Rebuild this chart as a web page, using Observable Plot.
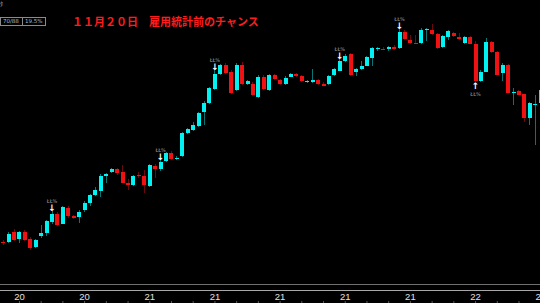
<!DOCTYPE html>
<html><head><meta charset="utf-8">
<script src="https://cdn.jsdelivr.net/npm/d3@7"></script>
<script src="https://cdn.jsdelivr.net/npm/@observablehq/plot@0.6"></script>
<style>
html,body{margin:0;padding:0;background:#000;}
#wrap{position:relative;width:540px;height:303px;overflow:hidden;background:#000;}
#chart svg{display:block;}
.title{position:absolute;left:72px;top:16px;font-family:"Noto Sans CJK JP",sans-serif;font-weight:bold;font-size:11px;line-height:11px;color:#ff1c1c;white-space:nowrap;}
.corner{position:absolute;left:0;top:1px;font-family:"Noto Sans CJK JP",sans-serif;font-size:6px;line-height:6px;color:#9a9a9a;}
.box{position:absolute;left:0;top:17px;height:7px;border:1px solid #8a8a8a;display:flex;font-family:"DejaVu Sans",sans-serif;font-size:5.5px;line-height:7px;color:#b8b8b8;}
.box span{display:block;padding:0 2px;}
.box span.c1{width:17px;border-right:1px solid #8a8a8a;}
.box span.c2{width:18px;}
</style></head><body>
<div id="wrap">
  <div id="chart"></div>
  <div class="corner">ﾀ</div>
  <div class="box"><span class="c1">70/88</span><span class="c2">19.5%</span></div>
  <div class="title">１１月２０日　雇用統計前のチャンス</div>
</div>
<script>
// candle data (price units), one per bar
const opens  = [113.080,113.077,113.183,113.113,113.183,113.110,113.027,113.143,113.167,113.280,
                113.360,113.263,113.420,113.340,113.330,113.397,113.470,113.553,113.587,113.737,
                113.783,113.807,113.780,113.670,113.650,113.747,113.737,113.640,113.840,113.807,
                113.890,113.973,113.915,113.943,114.173,114.200,114.243,114.383,114.467,114.610,
                114.763,114.850,114.780,114.603,114.853,114.657,114.660,114.527,114.730,114.603,
                114.750,114.700,114.657,114.733,114.760,114.740,114.677,114.677,114.697,114.663,
                114.657,114.750,114.793,114.890,114.957,114.783,114.810,114.843,114.923,115.013,
                115.013,115.013,115.033,115.020,115.183,115.103,115.073,115.070,115.200,115.203,
                115.160,115.027,115.127,115.170,115.127,115.073,115.127,115.060,114.687,114.783,
                115.080,114.980,114.773,114.850,114.570,114.593,114.557,114.317,114.455,114.470];
const closes = [113.070,113.160,113.100,113.180,113.097,113.020,113.097,113.170,113.287,113.360,
                113.250,113.430,113.340,113.323,113.377,113.470,113.547,113.600,113.740,113.757,
                113.807,113.770,113.673,113.653,113.743,113.737,113.653,113.850,113.807,113.880,
                113.967,113.913,113.925,114.167,114.207,114.247,114.370,114.473,114.617,114.760,
                114.850,114.773,114.570,114.850,114.660,114.690,114.553,114.733,114.607,114.747,
                114.713,114.657,114.723,114.760,114.743,114.687,114.690,114.697,114.657,114.643,
                114.740,114.807,114.890,114.943,114.750,114.807,114.837,114.930,115.020,115.023,
                115.003,115.030,115.013,115.183,115.110,115.070,115.063,115.203,115.210,115.163,
                115.023,115.140,115.190,115.137,115.107,115.127,115.063,114.690,114.780,115.080,
                114.980,114.753,114.853,114.573,114.580,114.553,114.317,114.467,114.465,114.600];
const highs  = [113.100,113.180,113.210,113.190,113.200,113.130,113.110,113.250,113.300,113.390,
                113.380,113.440,113.440,113.350,113.400,113.490,113.560,113.630,113.760,113.770,
                113.820,113.820,113.850,113.710,113.750,113.780,113.800,113.860,113.860,113.900,
                113.980,113.990,113.940,114.180,114.220,114.280,114.380,114.490,114.630,114.800,
                114.860,114.870,114.800,114.870,114.880,114.700,114.680,114.750,114.750,114.760,
                114.760,114.710,114.740,114.770,114.770,114.750,114.700,114.810,114.710,114.680,
                114.750,114.820,114.910,114.960,114.970,114.820,114.890,114.940,115.030,115.030,
                115.030,115.040,115.050,115.210,115.200,115.150,115.150,115.220,115.220,115.260,
                115.170,115.150,115.200,115.180,115.170,115.140,115.140,115.090,114.800,115.120,
                115.090,114.990,114.870,114.860,114.620,114.600,114.560,114.480,114.550,114.620];
const lows   = [113.050,113.070,113.090,113.067,113.090,113.000,113.020,113.120,113.140,113.260,
                113.240,113.260,113.320,113.310,113.270,113.380,113.440,113.540,113.530,113.670,
                113.770,113.750,113.670,113.600,113.640,113.720,113.570,113.630,113.720,113.790,
                113.880,113.900,113.900,113.930,114.160,114.190,114.230,114.250,114.460,114.600,
                114.750,114.760,114.560,114.590,114.650,114.650,114.540,114.520,114.600,114.590,
                114.700,114.650,114.650,114.730,114.730,114.680,114.670,114.670,114.650,114.640,
                114.650,114.740,114.790,114.880,114.740,114.740,114.800,114.840,114.840,114.990,
                115.000,114.990,115.000,115.010,115.100,115.060,115.060,115.060,115.090,115.150,
                115.010,115.020,115.100,115.130,115.100,115.060,115.060,114.680,114.680,114.780,
                114.970,114.750,114.690,114.570,114.450,114.550,114.280,114.250,114.050,114.460];

// x-axis labels (day) at bar positions
const tickIndex  = [3, 15, 27, 39, 51, 63, 75, 87, 99];
const tickLabels = ["20", "20", "21", "21", "21", "21", "21", "22", "22"];
const minorTicks = d3.range(3, 100, 4);

// signal markers
const sellSignals = [9, 29, 39, 62, 73];
const buySignals  = [87];
const signalText  = "ŁŁ%";

const bars = opens.map((o, i) => ({i, open: o, close: closes[i], high: highs[i], low: lows[i], up: closes[i] >= o}));
const upColor = "#00f2f2", downColor = "#f01212";
const upWick = "#0a7474", downWick = "#6a0a0a";

const chart = Plot.plot({
  width: 540,
  height: 303,
  marginTop: 0, marginRight: 0, marginLeft: 0, marginBottom: 19,
  style: {background: "#000", color: "#ddd", overflow: "visible"},
  x: {domain: [-0.49, 98.96], axis: null, label: null},
  y: {domain: [112.66, 115.50], axis: null, label: null},
  marks: [
    Plot.ruleX(bars, {x: "i", y1: "low", y2: "high", stroke: d => d.up ? upWick : downWick, strokeWidth: 1, shapeRendering: "crispEdges"}),
    Plot.ruleX(bars, {x: "i", y1: "open", y2: "close", stroke: d => d.up ? upColor : downColor, strokeWidth: 4, shapeRendering: "crispEdges"}),
    Plot.text(sellSignals, {x: d => d, y: d => highs[d], text: () => "↓", dy: -1, lineAnchor: "bottom", fill: "#fff", fontSize: 9, fontWeight: "bold", fontFamily: "DejaVu Sans"}),
    Plot.text(sellSignals, {x: d => d, y: d => highs[d], text: () => signalText, dy: -9, lineAnchor: "bottom", fill: "#9a9a9a", fontSize: 5, fontFamily: "DejaVu Sans"}),
    Plot.text(buySignals, {x: d => d, y: d => lows[d], text: () => "↑", dy: 0, lineAnchor: "top", fill: "#fff", fontSize: 9, fontWeight: "bold", fontFamily: "DejaVu Sans"}),
    Plot.text(buySignals, {x: d => d, y: d => lows[d], text: () => signalText, dy: 9.5, lineAnchor: "top", fill: "#9a9a9a", fontSize: 5, fontFamily: "DejaVu Sans"}),
    Plot.frame({anchor: "bottom", stroke: "#707070"}),
    Plot.frame({anchor: "bottom", stroke: "#a8a8a8", dy: 6}),
    Plot.axisX(tickIndex, {tickSize: 0, tickPadding: 9, label: null, tickFormat: d => tickLabels[tickIndex.indexOf(d)], fill: "#e0e0e0", fontSize: 9.5, fontFamily: "Liberation Sans"}),
    Plot.axisX(minorTicks, {tickSize: 2, label: null, fill: "none", stroke: "#5a5a5a", dy: 17})
  ]
});
document.getElementById("chart").appendChild(chart);
</script>
</body></html>
